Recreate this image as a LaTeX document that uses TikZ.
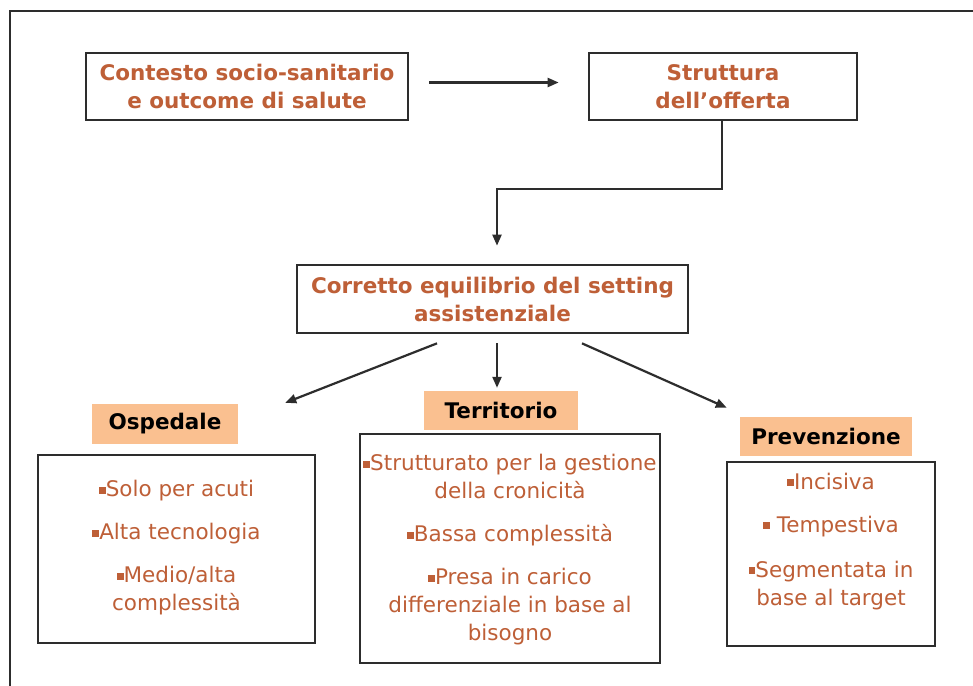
\documentclass[tikz,border=0pt]{standalone}
\usepackage{fontspec}
\setmainfont{DejaVu Sans}
\usetikzlibrary{arrows.meta,calc}
\definecolor{txt}{RGB}{190,95,55}
\definecolor{lab}{RGB}{250,192,144}
\definecolor{ln}{RGB}{45,45,45}
\newcommand{\sqb}{\raisebox{0.28ex}{\rule{0.32em}{0.32em}}}
\begin{document}
\begin{tikzpicture}[x=1pt,y=-1pt,
  box/.style={draw=ln,line width=2.7pt,fill=white,inner sep=0pt,align=center,text=txt,
    font=\fontsize{21.5}{28}\selectfont\bfseries},
  item/.style={draw=ln,line width=2.7pt,fill=white,inner sep=0pt},
  itemtxt/.style={inner sep=0pt,align=center,text=txt,font=\fontsize{21.5}{28}\selectfont},
  lbl/.style={fill=lab,inner sep=0pt,text=black,font=\fontsize{21.5}{28}\selectfont\bfseries},
  arr/.style={draw=ln,line width=2.2pt,-{Triangle[length=11pt,width=9pt]}}]
\useasboundingbox (0,0) rectangle (973,685);
\clip (0,0) rectangle (973,685);
\fill[white] (0,0) rectangle (973,685);
\draw[ln,line width=2.7pt] (10,11) rectangle (1000,720);
\node[box,minimum width=322pt,minimum height=67pt] (c1) at (247,86.5) {Contesto socio-sanitario\\e outcome di salute};
\node[box,minimum width=268pt,minimum height=67pt] (c2) at (723,86.5) {Struttura\\dell’offerta};
\node[box,minimum width=391pt,minimum height=68pt] (c3) at (492.5,299) {Corretto equilibrio del setting\\assistenziale};
\node[lbl,minimum width=146pt,minimum height=40pt] (l1) at (165,424) {Ospedale\hspace{10pt}};
\node[lbl,minimum width=154pt,minimum height=39pt] (l2) at (501,410.5) {Territorio};
\node[lbl,minimum width=172pt,minimum height=39pt] (l3) at (826,436.5) {Prevenzione};
\node[item,minimum width=277pt,minimum height=188pt] (b1) at (176.5,549) {};
\node[itemtxt] (t1) at ($(b1.center)+(0,-1)$)
  {\sqb Solo per acuti\\[15pt]\sqb Alta tecnologia\\[15pt]\sqb Medio/alta\\complessità};
\node[item,minimum width=300pt,minimum height=229pt] (b2) at (510,548.5) {};
\node[itemtxt] (t2) at ($(b2.center)+(0,1.5)$)
  {\sqb Strutturato per la gestione\\della cronicità\\[15pt]\sqb Bassa complessità\\[15pt]\sqb Presa in carico\\differenziale in base al\\bisogno};
\node[item,minimum width=208pt,minimum height=184pt] (b3) at (831,554) {};
\node[itemtxt] (t3) at ($(b3.center)+(0,-12.5)$)
  {\sqb Incisiva\\[15pt]\sqb\ Tempestiva\\[17pt]\sqb Segmentata in\\base al target};
\draw[arr] ($(c1.east)+(20,-4)$) -- ($(c2.west)+(-29,-4)$);
\coordinate (k1) at ($(c2.south)+(-1,68)$);
\draw[arr] ($(c2.south)+(-1,0)$) -- (k1) -| ($(c3.north)+(4.5,-18)$);
\draw[arr] ($(c3.south)+(-55.5,9)$) -- ($(l1.north east)+(47,-1)$);
\draw[arr] ($(c3.south)+(4.5,9)$) -- ($(l2.north)+(-4,-3)$);
\draw[arr] ($(c3.south)+(89.5,9)$) -- ($(l3.north west)+(-13,-9)$);
\end{tikzpicture}
\end{document}
